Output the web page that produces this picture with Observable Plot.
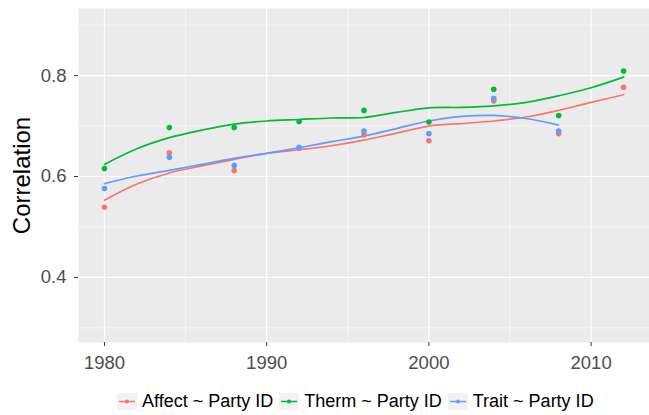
<!DOCTYPE html>
<html>
<head>
<meta charset="utf-8">
<script src="https://cdn.jsdelivr.net/npm/d3@7"></script>
<script src="https://cdn.jsdelivr.net/npm/@observablehq/plot@0.6"></script>
<style>
  body { margin: 0; background: #fff; font-family: "Liberation Sans", Arial, sans-serif; }
  #chart { position: relative; width: 649px; height: 415px; }
  .legend { position: absolute; left: 117px; top: 391px; display: flex; align-items: center; font-size: 18px; color: #000; white-space: nowrap; }
  .legend .item { display: flex; align-items: center; margin-right: 6px; }
  .legend svg { margin-right: 5px; }
</style>
</head>
<body>
<div id="chart"></div>
<script>
const series = ['Affect ~ Party ID', 'Therm ~ Party ID', 'Trait ~ Party ID']
const colors = ['#F8766D', '#00BA38', '#619CFF']

// survey years and observed correlations
const years = [1980, 1984, 1988, 1992, 1996, 2000, 2004, 2008, 2012]
const affect = [0.539, 0.647, 0.612, 0.656, 0.683, 0.671, 0.750, 0.685, 0.777]
const therm = [0.616, 0.697, 0.697, 0.709, 0.731, 0.708, 0.773, 0.721, 0.809]
const trait = [0.576, 0.638, 0.622, 0.658, 0.690, 0.685, 0.755, 0.690]

// smoothed trend lines, every two years
const fitYears = [1980, 1982, 1984, 1986, 1988, 1990, 1992, 1994, 1996, 1998, 2000, 2002, 2004, 2006, 2008, 2010, 2012]
const affectFit = [0.553, 0.585, 0.607, 0.621, 0.634, 0.646, 0.653, 0.661, 0.672, 0.686, 0.700, 0.705, 0.710, 0.718, 0.731, 0.747, 0.762]
const thermFit = [0.624, 0.655, 0.677, 0.692, 0.704, 0.710, 0.713, 0.716, 0.717, 0.727, 0.736, 0.737, 0.740, 0.747, 0.760, 0.776, 0.797]
const traitFit = [0.586, 0.601, 0.612, 0.624, 0.636, 0.646, 0.657, 0.669, 0.680, 0.695, 0.710, 0.719, 0.721, 0.715, 0.702]

const xMajor = [1980, 1990, 2000, 2010]
const xMinor = [1985, 1995, 2005]
const yMajor = [0.4, 0.6, 0.8]
const yMinor = [0.3, 0.5, 0.7, 0.9]

const points = []
;[affect, therm, trait].forEach((vals, i) => {
  vals.forEach((v, j) => points.push({year: years[j], r: v, series: series[i]}))
})
const fits = []
;[affectFit, thermFit, traitFit].forEach((vals, i) => {
  vals.forEach((v, j) => fits.push({year: fitYears[j], r: v, series: series[i]}))
})

const chart = Plot.plot({
  width: 649,
  height: 380,
  marginTop: 8,
  marginBottom: 38,
  marginLeft: 78,
  marginRight: 0,
  style: {fontFamily: '"Liberation Sans", Arial, sans-serif', background: 'white'},
  x: {domain: [1978.4, 2013.6]},
  y: {domain: [0.271, 0.933]},
  color: {domain: series, range: colors},
  marks: [
    Plot.frame({fill: '#EBEBEB', stroke: null}),
    Plot.ruleX(xMinor, {stroke: 'white', strokeWidth: 0.6}),
    Plot.ruleY(yMinor, {stroke: 'white', strokeWidth: 0.6}),
    Plot.ruleX(xMajor, {stroke: 'white', strokeWidth: 1.2}),
    Plot.ruleY(yMajor, {stroke: 'white', strokeWidth: 1.2}),
    Plot.line(fits, {x: 'year', y: 'r', z: 'series', stroke: 'series', strokeWidth: 1.7, curve: 'catmull-rom'}),
    Plot.dot(points, {x: 'year', y: 'r', fill: 'series', r: 2.8}),
    Plot.axisX(xMajor, {tickSize: 4, tickPadding: 9, stroke: '#333', fill: '#4D4D4D', fontSize: 18.5, tickFormat: d => String(d), label: null}),
    Plot.axisY(yMajor, {tickSize: 4, tickPadding: 8, stroke: '#333', fill: '#4D4D4D', fontSize: 18.5, tickFormat: d3.format('.1f'), label: null}),
    Plot.text(['Correlation'], {frameAnchor: 'left', textAnchor: 'middle', dx: -49, rotate: -90, fontSize: 24, fill: '#000', lineAnchor: 'bottom'})
  ]
})

const root = d3.select('#chart')
root.append(() => chart)

// legend below the plot, like ggplot's bottom legend
const legend = root.append('div').attr('class', 'legend')
series.forEach((s, i) => {
  const item = legend.append('div').attr('class', 'item')
  const key = item.append('svg').attr('width', 20).attr('height', 17)
  key.append('rect').attr('width', 20).attr('height', 17).attr('fill', '#F2F2F2')
  key.append('line').attr('x1', 2).attr('x2', 18).attr('y1', 8.5).attr('y2', 8.5)
    .attr('stroke', colors[i]).attr('stroke-width', 1.5)
  key.append('circle').attr('cx', 10).attr('cy', 8.5).attr('r', 2).attr('fill', colors[i])
  item.append('span').text(s)
})
</script>
</body>
</html>
